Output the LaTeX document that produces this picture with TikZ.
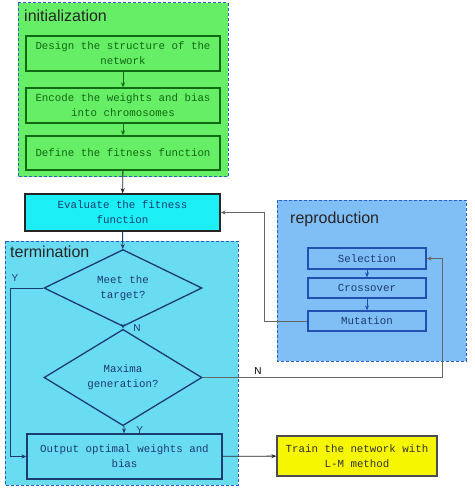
\documentclass[tikz,border=0pt]{standalone}
\usepackage{fontspec}
\setmainfont{Liberation Sans}
\setsansfont{Liberation Sans}
\setmonofont{Liberation Mono}
\usepackage{xcolor}
\usepackage{tikz}
\usetikzlibrary{shapes.geometric}
\usetikzlibrary{arrows.meta}

\definecolor{initfill}{HTML}{66EE66}
\definecolor{initline}{HTML}{106A10}
\definecolor{evalfill}{HTML}{1CF0F6}
\definecolor{termfill}{HTML}{6ADCF2}
\definecolor{termline}{HTML}{1A3C70}
\definecolor{reprofill}{HTML}{80BEF6}
\definecolor{reproline}{HTML}{2050B0}
\definecolor{groupline}{HTML}{2B5FC8}
\definecolor{trainfill}{HTML}{F6F600}

\begin{document}
\begin{tikzpicture}[x=1pt, y=-1pt, font=\ttfamily\fontsize{10.8}{15}\selectfont,
  group/.style={draw=groupline, line width=1pt, dash pattern=on 3pt off 2pt},
  grouplabel/.style={anchor=base west, inner sep=0pt, text=black!85, font=\sffamily\fontsize{16}{16}\selectfont},
  box/.style={rectangle, draw, line width=1.3pt, inner sep=0pt, align=center},
  decide/.style={diamond, draw=termline, line width=1.3pt, inner sep=0pt, align=center, text=termline},
  flow/.style={-{Stealth[length=5pt, width=4pt]}, line width=0.9pt},
  branchlabel/.style={font=\sffamily\fontsize{10}{10}\selectfont, inner sep=0pt}]
  \useasboundingbox (0,0) rectangle (474,494);

  \fill[initfill] (18,3) rectangle (228,177);
  \draw[group] (18,3) rectangle (228,177);
  \fill[termfill] (5,241) rectangle (238,485);
  \draw[group] (5,241) rectangle (238,485);
  \fill[reprofill] (277,200) rectangle (466,361);
  \draw[group] (277,200) rectangle (466,361);

  \node[grouplabel] (initlabel) at (24,22) {initialization};
  \node[grouplabel] (termlabel) at (10,257) {termination};
  \node[grouplabel] (reprolabel) at (290,223) {reproduction};

  \node[box, draw=initline, fill=initfill, text=initline, minimum width=194pt, minimum height=35pt] (design) at (123,53.5) {Design the structure of the\\network};
  \node[box, draw=initline, fill=initfill, text=initline, minimum width=194pt, minimum height=35pt] (encode) at (123,105.5) {Encode the weights and bias\\into chromosomes};
  \node[box, draw=initline, fill=initfill, text=initline, minimum width=194pt, minimum height=34pt] (fitness) at (123,153) {Define the fitness function};

  \node[box, draw=black!85, fill=evalfill, text=termline, minimum width=195pt, minimum height=37pt] (evaluate) at (122.5,212.5) {Evaluate the fitness\\function};

  \node[decide, minimum width=158pt, minimum height=72pt] (target) at (123,288) {Meet the\\target?};
  \node[decide, minimum width=158pt, minimum height=71pt] (maxgen) at (123,377.5) {Maxima\\generation?};
  \node[box, draw=termline, fill=termfill, text=termline, minimum width=195pt, minimum height=45pt] (output) at (124.5,456.5) {Output optimal weights and\\bias};

  \node[box, draw=black!70, fill=trainfill, text=black!80, minimum width=160pt, minimum height=40pt] (train) at (357,456) {Train the network with\\L-M method};

  \node[box, draw=reproline, fill=reprofill, text=termline, minimum width=118pt, minimum height=21pt] (selection) at (367,258.5) {Selection};
  \node[box, draw=reproline, fill=reprofill, text=termline, minimum width=118pt, minimum height=20pt] (crossover) at (367,288) {Crossover};
  \node[box, draw=reproline, fill=reprofill, text=termline, minimum width=118pt, minimum height=20pt] (mutation) at (367,321) {Mutation};

  \draw[flow, initline] (design) -- (encode);
  \draw[flow, initline] (encode) -- (fitness);
  \draw[flow, black!85] (fitness) -- (evaluate);
  \draw[flow, termline] (evaluate) -- (target);
  \draw[flow, termline] (target) -- (maxgen) node[branchlabel, text=termline, pos=0.85, right=10pt] (nmark) {N};
  \draw[flow, termline] (maxgen) -- (output) node[branchlabel, text=termline, pos=0.55, right=12pt] (ymark) {Y};
  \draw[flow, termline] (target.west) -- ++(-33,0) |- (output.west);
  \node[branchlabel, text=termline] (ytarget) at (15,278) {Y};
  \draw[flow, black!85] (output) -- (train);
  \draw[flow, reproline] (selection) -- (crossover);
  \draw[flow, reproline] (crossover) -- (mutation);
  \draw[flow, black!60, line width=0.7pt] (mutation.west) -- ++(-43,0) |- (evaluate.east);
  \draw[flow, black!60, line width=0.7pt] (maxgen.east) -- ++(240,0) |- (selection.east);
  \node[branchlabel] (nmaxgen) at (258,371) {N};
\end{tikzpicture}
\end{document}
